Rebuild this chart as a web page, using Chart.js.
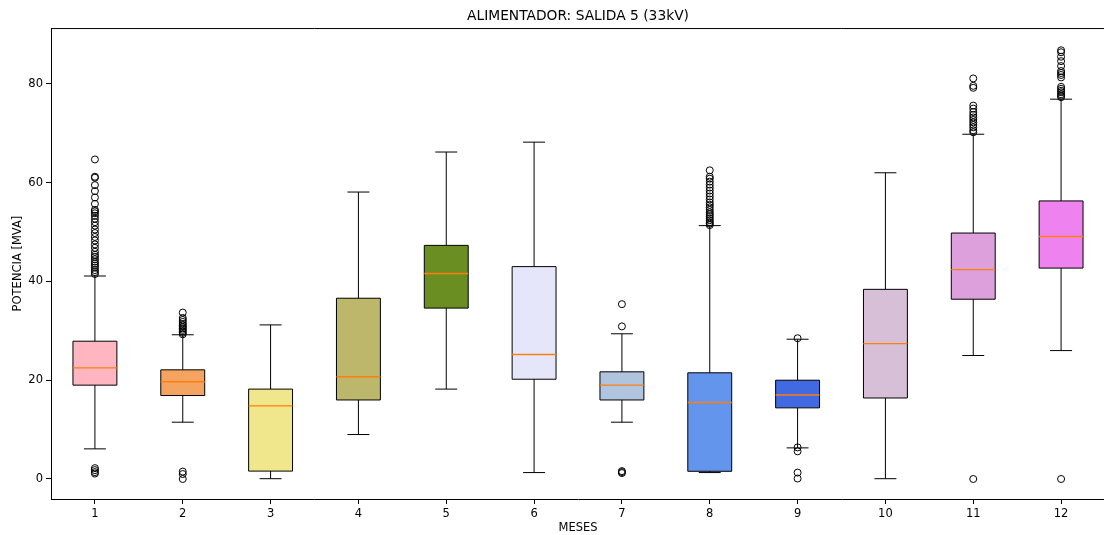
<!DOCTYPE html>
<html>
<head>
<meta charset="utf-8">
<script src="https://cdn.jsdelivr.net/npm/chart.js"></script>
<style>
  body { margin: 0; overflow: hidden; background: #fff; }
  #wrap { width: 1104px; height: 535px; overflow: hidden; }
</style>
</head>
<body>
<div id="wrap"><canvas id="boxChart" width="1110" height="535"></canvas></div>
<script>
// months and box statistics
const MONTHS = [1, 2, 3, 4, 5, 6, 7, 8, 9, 10, 11, 12];
const Q1 = [19.0, 16.9, 1.6, 16.0, 34.6, 20.2, 16.0, 1.56, 14.4, 16.4, 36.4, 42.7];
const MEDIAN = [22.5, 19.7, 14.8, 20.7, 41.6, 25.2, 19.0, 15.5, 17.0, 27.4, 42.4, 49.1];
const Q3 = [27.9, 22.1, 18.2, 36.6, 47.3, 43.0, 21.7, 21.5, 20.0, 38.4, 49.8, 56.3];
const WHISK_LO = [6.1, 11.5, 0.06, 9.0, 18.2, 1.3, 11.5, 1.3, 6.3, 0.06, 25.0, 26.0];
const WHISK_HI = [41.1, 29.2, 31.2, 58.1, 66.2, 68.2, 29.4, 51.3, 28.3, 62.0, 69.8, 76.9];
const OUTLIERS = [
    [41.5, 41.9, 42.3, 42.8, 43.2, 43.6, 44.0, 44.5, 45.0, 45.4, 46.0, 46.8, 47.5, 48.3, 49.0,
     49.8, 50.5, 51.3, 52.0, 52.7, 53.3, 53.8, 54.2, 54.5, 55.7, 57.0, 58.3, 59.5, 61.0, 61.2,
     64.7, 1.1, 1.4, 1.8, 2.2],
    [29.3, 29.6, 29.9, 30.2, 30.5, 30.8, 31.1, 31.4, 31.8, 32.2, 32.6, 33.7, 0, 1.0, 1.5],
    [],
    [],
    [],
    [],
    [35.4, 30.9, 1.2, 1.4, 1.6],
    [51.4, 51.7, 52.0, 52.4, 52.8, 53.2, 53.6, 54.0, 54.5, 55.0, 55.5, 56.0, 56.6, 57.2, 57.8,
     58.4, 59.0, 59.6, 60.2, 60.8, 61.2, 62.5],
    [28.5, 6.4, 5.6, 1.3, 0.1],
    [],
    [70.2, 70.6, 71.2, 71.7, 72.2, 72.7, 73.2, 73.7, 74.3, 75.0, 75.6, 79.2, 79.6, 81.1, 0],
    [77.3, 77.6, 77.9, 78.3, 78.6, 79.0, 79.4, 81.3, 81.8, 82.2, 82.6, 83.6, 84.6, 85.5, 86.4, 86.8, 0]
];
const BOX_COLORS = ['#FFB6C1', '#F4A460', '#F0E68C', '#BDB76B', '#6B8E23', '#E6E6FA',
                    '#B0C4DE', '#6495ED', '#4169E1', '#D8BFD8', '#DDA0DD', '#EE82EE'];
const Y_TICKS = [0, 20, 40, 60, 80];

const HALF_BOX = 0.25;
const HALF_CAP = 0.125;
const FONT = 'DejaVu Sans';

const datasets = [];

// box fills (no border; outline drawn below)
MONTHS.forEach((m, i) => {
    datasets.push({
        data: [
            { x: m - HALF_BOX, y: Q1[i] }, { x: m + HALF_BOX, y: Q1[i] },
            { x: m + HALF_BOX, y: Q3[i] }, { x: m - HALF_BOX, y: Q3[i] },
            { x: m - HALF_BOX, y: Q1[i] }
        ],
        showLine: true,
        fill: 'shape',
        backgroundColor: BOX_COLORS[i],
        borderWidth: 0,
        pointRadius: 0,
        order: 5
    });
});

// outlines, whiskers and caps; vertical runs always go low value -> high value
const lines = [];
MONTHS.forEach((m, i) => {
    lines.push({ x: m - HALF_BOX, y: Q1[i] }, { x: m + HALF_BOX, y: Q1[i] },
               { x: m + HALF_BOX, y: Q3[i] }, { x: m - HALF_BOX, y: Q3[i] }, { x: m, y: null });
    lines.push({ x: m - HALF_BOX, y: Q1[i] }, { x: m - HALF_BOX, y: Q3[i] }, { x: m, y: null });
    lines.push({ x: m, y: Q3[i] }, { x: m, y: WHISK_HI[i] }, { x: m, y: null });
    lines.push({ x: m, y: WHISK_LO[i] }, { x: m, y: Q1[i] }, { x: m, y: null });
    lines.push({ x: m - HALF_CAP, y: WHISK_HI[i] }, { x: m + HALF_CAP, y: WHISK_HI[i] }, { x: m, y: null });
    lines.push({ x: m - HALF_CAP, y: WHISK_LO[i] }, { x: m + HALF_CAP, y: WHISK_LO[i] }, { x: m, y: null });
});
datasets.push({
    data: lines, showLine: true, spanGaps: false, borderColor: '#000',
    borderWidth: 1, pointRadius: 0, order: 3
});

// medians
const med = [];
MONTHS.forEach((m, i) => {
    med.push({ x: m - HALF_BOX, y: MEDIAN[i] }, { x: m + HALF_BOX, y: MEDIAN[i] }, { x: m, y: null });
});
datasets.push({
    data: med, showLine: true, spanGaps: false, borderColor: '#ff7f0e', borderWidth: 1.4,
    pointRadius: 0, order: 2
});

// fliers
const fliers = [];
MONTHS.forEach((m, i) => {
    OUTLIERS[i].forEach(v => fliers.push({ x: m, y: v }));
});
datasets.push({
    data: fliers, showLine: false, pointRadius: 3.5, pointBorderWidth: 1,
    pointBorderColor: '#000', pointBackgroundColor: 'rgba(0,0,0,0)', order: 1
});

// top spine like matplotlib
const frame = {
    id: 'frame',
    afterDraw(chart) {
        const a = chart.chartArea;
        const ctx = chart.ctx;
        ctx.save();
        ctx.strokeStyle = '#000';
        ctx.lineWidth = 1;
        ctx.beginPath();
        ctx.moveTo(a.left, a.top + 0.5);
        ctx.lineTo(a.right, a.top + 0.5);
        ctx.stroke();
        ctx.restore();
    }
};

new Chart(document.getElementById('boxChart'), {
    type: 'scatter',
    data: { datasets: datasets },
    plugins: [frame],
    options: {
        responsive: false,
        animation: false,
        layout: { padding: { left: 0, right: 2, top: 0, bottom: 0 } },
        plugins: {
            legend: { display: false },
            tooltip: { enabled: false },
            title: {
                display: true,
                fullSize: false,
                text: 'ALIMENTADOR: SALIDA 5 (33kV)',
                color: '#000',
                font: { family: FONT, size: 13.8, weight: 'normal' },
                padding: { top: 8.5, bottom: 3 }
            }
        },
        scales: {
            x: {
                type: 'linear',
                min: 0.5,
                max: 12.5,
                afterBuildTicks: s => { s.ticks = MONTHS.map(v => ({ value: v })); },
                afterFit: s => { s.height = 36; },
                ticks: { color: '#000', font: { family: FONT, size: 11.5 }, padding: 3, autoSkip: false, maxRotation: 0 },
                grid: { drawOnChartArea: false, tickLength: 5, color: '#000' },
                border: { display: true, color: '#000', width: 1 },
                title: {
                    display: true, text: 'MESES', color: '#000',
                    font: { family: FONT, size: 11.5 }, padding: { top: 0, bottom: 0 }
                }
            },
            y: {
                min: -4.05,
                max: 91.3,
                afterBuildTicks: s => { s.ticks = Y_TICKS.map(v => ({ value: v })); },
                afterFit: s => { s.width = 51; },
                ticks: { color: '#000', font: { family: FONT, size: 11.5 }, padding: 3 },
                grid: { drawOnChartArea: false, tickLength: 5, color: '#000' },
                border: { display: true, color: '#000', width: 1 },
                title: {
                    display: true, text: 'POTENCIA [MVA]', color: '#000',
                    font: { family: FONT, size: 11.5 }, padding: { top: 11, bottom: 0 }
                }
            }
        }
    }
});
</script>
</body>
</html>
